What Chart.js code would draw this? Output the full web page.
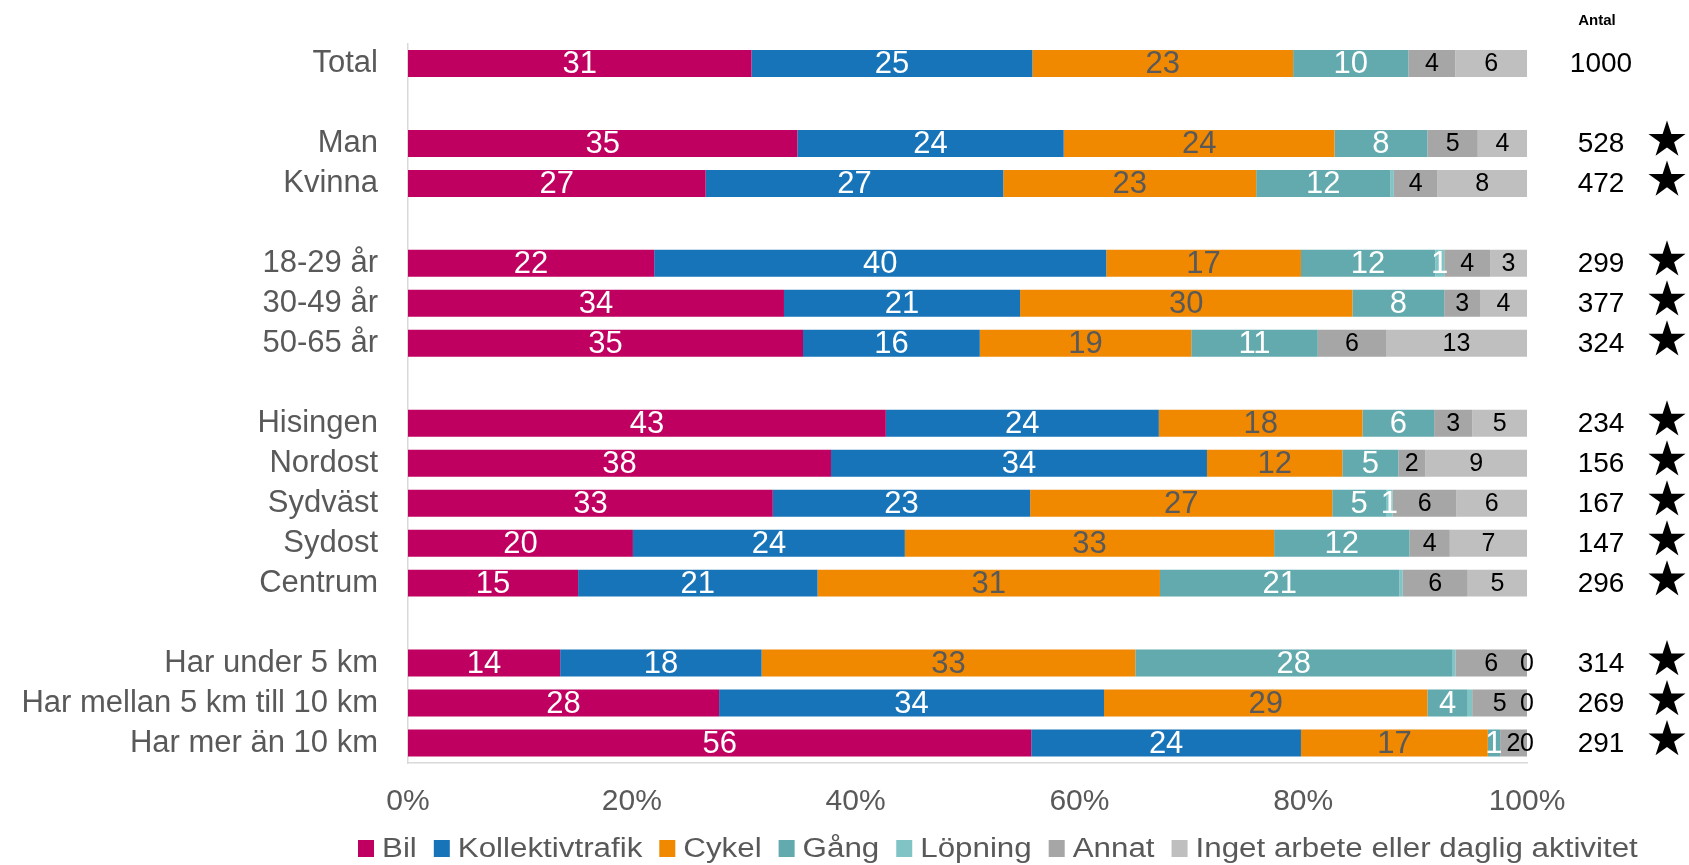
<!DOCTYPE html>
<html>
<head>
<meta charset="utf-8">
<script src="https://cdn.jsdelivr.net/npm/chart.js@4/dist/chart.umd.min.js"></script>
<style>
  html, body { margin: 0; padding: 0; background: #fff; }
  canvas { display: block; }
</style>
</head>
<body>
<canvas id="c" width="1689" height="865"></canvas>
<script>
const categories = ['Total', '', 'Man', 'Kvinna', '', '18-29 år', '30-49 år', '50-65 år', '',
  'Hisingen', 'Nordost', 'Sydväst', 'Sydost', 'Centrum', '',
  'Har under 5 km', 'Har mellan 5 km till 10 km', 'Har mer än 10 km'];

const seriesNames = ['Bil', 'Kollektivtrafik', 'Cykel', 'Gång', 'Löpning', 'Annat', 'Inget arbete eller daglig aktivitet'];

const bil       = [30.7, null, 34.8, 26.6, null, 22.0, 33.6, 35.3, null, 42.7, 37.8, 32.6, 20.1, 15.2, null, 13.6, 27.8, 55.7];
const kollektiv = [25.1, null, 23.8, 26.6, null, 40.4, 21.1, 15.8, null, 24.4, 33.6, 23.0, 24.3, 21.4, null, 18.0, 34.4, 24.1];
const cykel     = [23.3, null, 24.2, 22.6, null, 17.4, 29.7, 18.9, null, 18.2, 12.1, 27.0, 33.0, 30.6, null, 33.4, 28.9, 16.7];
const gang      = [10.3, null, 8.3, 12.0, null, 12.0, 8.2, 11.3, null, 6.4, 5.0, 4.8, 12.1, 21.4, null, 28.3, 3.6, 1.1];
const lopning   = [0, null, 0, 0.3, null, 0.8, 0, 0, null, 0, 0, 0.6, 0, 0.3, null, 0.3, 0.4, 0];
const annat     = [4.2, null, 4.5, 3.9, null, 4.1, 3.2, 6.1, null, 3.4, 2.4, 5.7, 3.6, 5.8, null, 6.4, 4.9, 2.4];
const inget     = [6.4, null, 4.4, 8.0, null, 3.3, 4.2, 12.6, null, 4.9, 9.1, 6.3, 6.9, 5.3, null, 0, 0, 0];

const antal = [1000, null, 528, 472, null, 299, 377, 324, null, 234, 156, 167, 147, 296, null, 314, 269, 291];
const star  = [false, false, true, true, false, true, true, true, false, true, true, true, true, true, false, true, true, true];

const xTicks = [0, 20, 40, 60, 80, 100];

const colors = ['#BF0060', '#1874B9', '#F08800', '#62AAAE', '#80C4C6', '#A6A6A6', '#BFBFBF'];
const labelColors = ['#FFFFFF', '#FFFFFF', '#595959', '#FFFFFF', '#FFFFFF', '#000000', '#000000'];
const labelSizes = [31, 31, 31, 31, 31, 25, 25];
const hideBelowOne = [false, false, false, false, true, false, false];

const seriesData = [bil, kollektiv, cykel, gang, lopning, annat, inget];

const datasets = seriesNames.map((name, i) => ({
  label: name,
  data: seriesData[i],
  backgroundColor: colors[i],
  borderWidth: 0,
  categoryPercentage: 1,
  barPercentage: 0.675
}));

const FONT = '"Liberation Sans", Arial, sans-serif';

const barLabels = {
  id: 'barLabels',
  afterDatasetsDraw(chart) {
    const ctx = chart.ctx;
    ctx.save();
    ctx.textAlign = 'center';
    ctx.textBaseline = 'middle';
    chart.data.datasets.forEach((ds, di) => {
      const meta = chart.getDatasetMeta(di);
      meta.data.forEach((el, i) => {
        const v = ds.data[i];
        if (v === null || v === undefined) return;
        const r = Math.round(v);
        if (hideBelowOne[di] && r < 1) return;
        ctx.fillStyle = labelColors[di];
        ctx.font = labelSizes[di] + 'px ' + FONT;
        ctx.fillText(String(r), (el.x + el.base) / 2, el.y + 1);
      });
    });
    ctx.restore();
  }
};

function drawStar(ctx, cx, cy, R) {
  const r = R * 0.382;
  ctx.beginPath();
  for (let k = 0; k < 10; k++) {
    const ang = -Math.PI / 2 + k * Math.PI / 5;
    const rad = k % 2 === 0 ? R : r;
    const px = cx + rad * Math.cos(ang);
    const py = cy + rad * Math.sin(ang);
    if (k === 0) ctx.moveTo(px, py); else ctx.lineTo(px, py);
  }
  ctx.closePath();
  ctx.fill();
}

const sideColumn = {
  id: 'sideColumn',
  afterDraw(chart) {
    const ctx = chart.ctx;
    const ys = chart.scales.y;
    ctx.save();
    ctx.fillStyle = '#000';
    ctx.textAlign = 'center';
    ctx.textBaseline = 'middle';
    ctx.font = 'bold 15px ' + FONT;
    ctx.fillText('Antal', 1597, 21);
    ctx.font = '28px ' + FONT;
    antal.forEach((n, i) => {
      if (n === null) return;
      const y = ys.getPixelForValue(i);
      ctx.fillText(String(n), 1601, y + 1);
      if (star[i]) drawStar(ctx, 1667, y - 3.5, 19.5);
    });
    ctx.restore();
  }
};

const customLegend = {
  id: 'customLegend',
  afterDraw(chart) {
    const ctx = chart.ctx;
    ctx.save();
    const sx = 1.16;
    ctx.font = '27px ' + FONT;
    ctx.textBaseline = 'middle';
    ctx.textAlign = 'left';
    let x = 358;
    const yBox = 840, boxH = 17, boxW = 16;
    chart.data.datasets.forEach((ds) => {
      ctx.fillStyle = ds.backgroundColor;
      ctx.fillRect(x, yBox, boxW, boxH);
      x += boxW + 8;
      const w = ctx.measureText(ds.label).width * sx;
      ctx.save();
      ctx.translate(x, yBox + boxH / 2 + 1);
      ctx.scale(sx, 1);
      ctx.fillStyle = '#595959';
      ctx.fillText(ds.label, 0, 0);
      ctx.restore();
      x += w + 17;
    });
    ctx.restore();
  }
};

new Chart(document.getElementById('c'), {
  type: 'bar',
  data: { labels: categories, datasets },
  options: {
    indexAxis: 'y',
    responsive: false,
    animation: false,
    layout: { padding: { left: 0, right: 162, top: 43.5, bottom: 24 } },
    plugins: {
      legend: { display: false },
      tooltip: { enabled: false }
    },
    scales: {
      x: {
        stacked: true,
        min: 0,
        max: 100,
        afterBuildTicks: (scale) => { scale.ticks = xTicks.map(v => ({ value: v })); },
        ticks: {
          callback: (v) => v + '%',
          color: '#595959',
          font: { family: FONT, size: 30 },
          padding: 21,
          maxRotation: 0
        },
        grid: { display: false, drawTicks: false },
        border: { display: true, color: '#D9D9D9', width: 1.5 }
      },
      y: {
        stacked: true,
        afterFit: (scale) => { scale.width = 408; },
        ticks: {
          color: '#595959',
          font: { family: FONT, size: 31, lineHeight: 0.8 },
          padding: 30,
          autoSkip: false
        },
        grid: { display: false, drawTicks: false },
        border: { display: true, color: '#D9D9D9', width: 1.5 }
      }
    }
  },
  plugins: [barLabels, sideColumn, customLegend]
});
</script>
</body>
</html>
